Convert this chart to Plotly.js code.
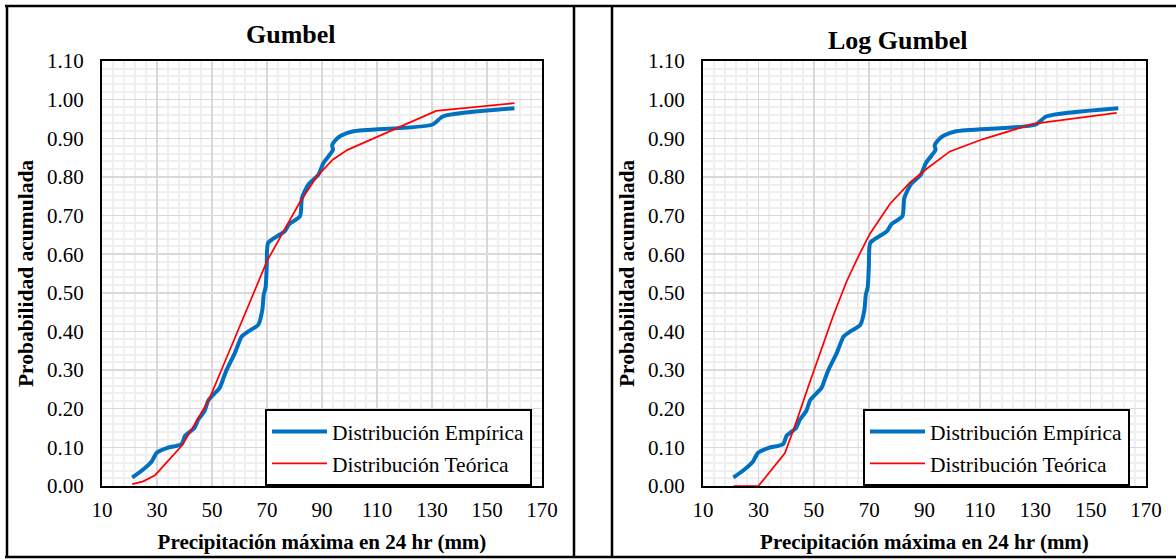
<!DOCTYPE html>
<html>
<head>
<meta charset="utf-8">
<script src="https://cdn.plot.ly/plotly-3.0.1.min.js"></script>
<style>
  html, body { margin: 0; padding: 0; background: #fff; }
  #chart { width: 1176px; height: 560px; }
</style>
</head>
<body>
<div id="chart"></div>
<script>
// ---- Data ----
const chartTitles = ["Gumbel", "Log Gumbel"];
const xAxisTitle = "Precipitación máxima en 24 hr (mm)";
const yAxisTitle = "Probabilidad acumulada";
const seriesNames = ["Distribución Empírica", "Distribución Teórica"];

// Empirical distribution (same in both charts)
const empX = [21.0, 24.5, 28.0, 29.9, 33.5, 39.0, 40.2, 43.6, 45.0, 47.3, 48.7, 52.8, 54.2, 55.4, 58.3, 60.8, 63.2, 66.8, 68.3, 68.8, 69.5, 69.9, 70.4, 73.6, 76.4, 78.0, 82.0, 82.7, 85.0, 88.7, 90.5, 93.3, 94.0, 93.7, 95.2, 97.0, 101.4, 130.0, 134.1, 160.0];
const empY = [0.022, 0.040, 0.063, 0.086, 0.098, 0.109, 0.130, 0.150, 0.172, 0.194, 0.222, 0.254, 0.280, 0.302, 0.344, 0.387, 0.400, 0.417, 0.456, 0.495, 0.515, 0.568, 0.629, 0.646, 0.659, 0.677, 0.698, 0.745, 0.780, 0.806, 0.836, 0.862, 0.870, 0.882, 0.897, 0.907, 0.918, 0.935, 0.957, 0.978];

// Theoretical Gumbel
const gumX = [21.0, 25.0, 29.3, 39.0, 44.0, 49.0, 54.0, 59.0, 64.0, 70.0, 75.3, 82.0, 88.0, 94.0, 99.3, 131.5, 160.0];
const gumY = [0.005, 0.012, 0.028, 0.104, 0.163, 0.225, 0.310, 0.396, 0.480, 0.582, 0.650, 0.735, 0.800, 0.845, 0.870, 0.971, 0.991];

// Theoretical Log Gumbel
const lgX = [21.0, 30.0, 39.6, 43.8, 48.0, 52.2, 57.0, 61.9, 66.7, 70.3, 77.5, 84.7, 90.8, 99.2, 111.2, 129.2, 159.4];
const lgY = [0.000, 0.000, 0.085, 0.168, 0.257, 0.345, 0.440, 0.530, 0.603, 0.653, 0.730, 0.785, 0.821, 0.866, 0.898, 0.937, 0.966];

// ---- Layout helpers ----
const W = 1176, H = 560;
const px = v => v / W;
const py = v => 1 - v / H;
const FONT = "Liberation Serif, Times New Roman, serif";
const BLUE = "#0070C0", RED = "#FF0000";

const traces = [
  {x: empX, y: empY, name: seriesNames[0], type: "scatter", mode: "lines",
   line: {color: BLUE, width: 4, shape: "spline", smoothing: 0.6},
   xaxis: "x", yaxis: "y", legend: "legend", legendgroup: "a1"},
  {x: gumX, y: gumY, name: seriesNames[1], type: "scatter", mode: "lines",
   line: {color: RED, width: 1.75},
   xaxis: "x", yaxis: "y", legend: "legend", legendgroup: "a2"},
  {x: empX, y: empY, name: seriesNames[0], type: "scatter", mode: "lines",
   line: {color: BLUE, width: 4, shape: "spline", smoothing: 0.6},
   xaxis: "x2", yaxis: "y2", legend: "legend2", legendgroup: "b1"},
  {x: lgX, y: lgY, name: seriesNames[1], type: "scatter", mode: "lines",
   line: {color: RED, width: 1.75},
   xaxis: "x2", yaxis: "y2", legend: "legend2", legendgroup: "b2"}
];

function xAxis(domain) {
  return {
    domain: domain, range: [10, 170], tick0: 10, dtick: 20, fixedrange: true,
    showgrid: true, gridcolor: "#d9d9d9", gridwidth: 1.5,
    minor: {dtick: 4, tick0: 10, showgrid: true, gridcolor: "#efefef", gridwidth: 2},
    showline: true, linecolor: "#000", linewidth: 2, mirror: true,
    ticks: "", zeroline: false, ticklabelstandoff: 4,
    tickfont: {family: FONT, size: 21, color: "#000"},
    title: {text: "<b>" + xAxisTitle + "</b>", font: {family: FONT, size: 21, color: "#000"}, standoff: 13}
  };
}
function yAxis(anchor) {
  return {
    domain: [74 / H, 499 / H], range: [0, 1.1], tick0: 0, dtick: 0.1, tickformat: ".2f",
    anchor: anchor, fixedrange: true,
    showgrid: true, gridcolor: "#d9d9d9", gridwidth: 1.5,
    minor: {dtick: 0.02, showgrid: true, gridcolor: "#efefef", gridwidth: 2},
    showline: true, linecolor: "#000", linewidth: 2, mirror: true,
    ticks: "", zeroline: false, ticklabelstandoff: 12,
    tickfont: {family: FONT, size: 21, color: "#000"},
    title: {text: "<b>" + yAxisTitle + "</b>", font: {family: FONT, size: 21.5, color: "#000"}, standoff: 8}
  };
}
function legendAt(xpx) {
  return {
    x: px(xpx), y: py(409), xref: "paper", yref: "paper", xanchor: "left", yanchor: "top",
    bgcolor: "#fff", bordercolor: "#000", borderwidth: 2,
    font: {family: FONT, size: 21.5, color: "#000"},
    traceorder: "grouped", tracegroupgap: 1, itemwidth: 55
  };
}

const frameLine = (x0, y0, x1, y1) => ({
  type: "line", xref: "paper", yref: "paper",
  x0: px(x0), y0: py(y0), x1: px(x1), y1: py(y1),
  line: {color: "#000", width: 2.5}
});

const layout = {
  width: W, height: H,
  margin: {l: 0, r: 0, t: 0, b: 0},
  paper_bgcolor: "#fff", plot_bgcolor: "#fff",
  font: {family: FONT, color: "#000"},
  showlegend: true,
  xaxis: Object.assign(xAxis([102 / W, 542 / W]), {anchor: "y"}),
  yaxis: yAxis("x"),
  xaxis2: Object.assign(xAxis([703 / W, 1146 / W]), {anchor: "y2"}),
  yaxis2: yAxis("x2"),
  legend: legendAt(265),
  legend2: legendAt(863),
  annotations: [
    {text: "<b>" + chartTitles[0] + "</b>", xref: "paper", yref: "paper",
     x: px(291), y: py(34), xanchor: "center", yanchor: "middle", showarrow: false,
     font: {family: FONT, size: 26, color: "#000"}},
    {text: "<b>" + chartTitles[1] + "</b>", xref: "paper", yref: "paper",
     x: px(897), y: py(41), xanchor: "center", yanchor: "middle", showarrow: false,
     font: {family: FONT, size: 26, color: "#000"}}
  ],
  shapes: [
    frameLine(5, 6, 1176, 6),
    frameLine(5, 557, 1176, 557),
    frameLine(7, 6, 7, 557),
    frameLine(574, 6, 574, 557),
    frameLine(612, 6, 612, 557)
  ]
};

Plotly.newPlot("chart", traces, layout, {displayModeBar: false, staticPlot: true});
</script>
</body>
</html>
